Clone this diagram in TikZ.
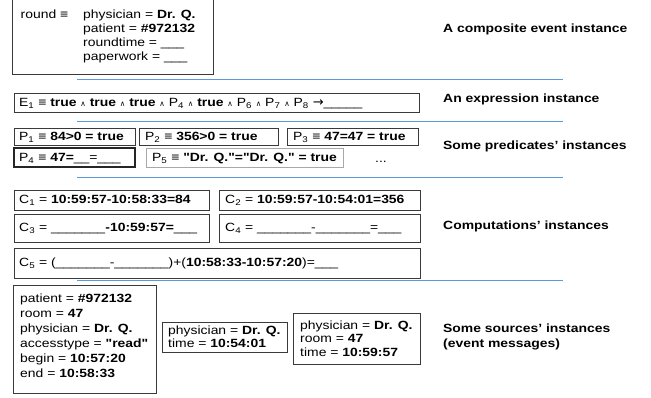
\documentclass[tikz,border=0pt]{standalone}
\usepackage{fontspec}
\setmainfont{Liberation Sans}[FakeStretch=1.17, Ligatures=TeXOff]
\newfontfamily\djv{DejaVu Sans}
\usetikzlibrary{fit}
\definecolor{boxgray}{HTML}{3A3A3A}
\definecolor{lightgray}{HTML}{A8A8A8}
\definecolor{sepblue}{HTML}{5B9BD5}
\newcommand{\andop}{{\djv\fontsize{7.5}{8}\selectfont\raisebox{0.2pt}{∧}}}
\newcommand{\sbs}[1]{\textsubscript{#1}}
\begin{document}
\begin{tikzpicture}[x=1pt,y=-1pt,
  box/.style={draw=boxgray, line width=0.8pt, inner sep=0pt, outer sep=0pt},
  lbox/.style={draw=lightgray, line width=0.8pt, inner sep=0pt, outer sep=0pt},
  tbox/.style={draw=black!85, line width=1.1pt, inner sep=0pt, outer sep=0pt},
  txt/.style={anchor=base west, inner sep=0pt, font=\fontsize{11.9}{13}\selectfont},
  lab/.style={anchor=base west, inner sep=0pt, font=\fontsize{11.9}{13}\selectfont\bfseries},
  sep/.style={draw=sepblue, line width=0.9pt}]
\useasboundingbox[fill=white] (0,0) rectangle (651,398);

% separator lines
\coordinate (s1a) at (77,79);  \coordinate (s1b) at (563,79);
\coordinate (s2a) at (77,121); \coordinate (s2b) at (563,121);
\coordinate (s3a) at (77,177); \coordinate (s3b) at (563,177);
\coordinate (s4a) at (77,280); \coordinate (s4b) at (563,280);
\draw[sep] (s1a) -- (s1b);
\draw[sep] (s2a) -- (s2b);
\draw[sep] (s3a) -- (s3b);
\draw[sep] (s4a) -- (s4b);

% boxes
\node[box, fit={(12,-5)(213,74)}] (round) {};
\node[box, fit={(14,93)(419,112)}] (E1) {};
\node[box, fit={(14,128)(135,145)}] (P1) {};
\node[box, fit={(139,128)(278,145)}] (P2) {};
\node[box, fit={(287,128)(418,145)}] (P3) {};
\node[tbox, fit={(14,148)(135,167)}] (P4) {};
\node[lbox, fit={(146,148)(343,167)}] (P5) {};
\node[box, fit={(14,190)(209,210)}] (C1) {};
\node[box, fit={(219,190)(420,210)}] (C2) {};
\node[box, fit={(14,214)(209,242)}] (C3) {};
\node[box, fit={(219,214)(420,242)}] (C4) {};
\node[box, fit={(14,248)(420,278)}] (C5) {};
\node[box, fit={(13,285)(156,393)}] (S1) {};
\node[box, fit={(162,322)(287,352)}] (S2) {};
\node[box, fit={(293,313)(420,364)}] (S3) {};

% composite event
\node[txt] (rnd) at (20.5,19) {round ≡};
\node[txt] (r1) at (83,19) {physician = \textbf{Dr. Q.}};
\node[txt] (r2) at (83,33) {patient = \textbf{\#972132}};
\node[txt] (r3) at (83,47) {roundtime = \_\_\_};
\node[txt] (r4) at (83,61) {paperwork = \_\_\_};

% expression
\node[txt] (e1) at (19,106.5) {E\sbs{1} ≡ \textbf{true} \andop{} \textbf{true} \andop{} \textbf{true} \andop{} P\sbs{4} \andop{} \textbf{true} \andop{} P\sbs{6} \andop{} P\sbs{7} \andop{} P\sbs{8} {\djv\fontsize{13}{13}\selectfont →}\_\_\_\_\_};

% predicates
\node[txt] (p1) at (19,140.5) {P\sbs{1} ≡ \textbf{84>0 = true}};
\node[txt] (p2) at (145,140.5) {P\sbs{2} ≡ \textbf{356>0 = true}};
\node[txt] (p3) at (293,140.5) {P\sbs{3} ≡ \textbf{47=47 = true}};
\node[txt] (p4) at (19,161.5) {P\sbs{4} ≡ \textbf{47=}\_\_=\_\_\_};
\node[txt] (p5) at (152,161.5) {P\sbs{5} ≡ \textbf{"Dr. Q."="Dr. Q." = true}};
\node[txt] (dots) at (375,163) {...};

% computations
\node[txt] (c1) at (19,204) {C\sbs{1} = \textbf{10:59:57-10:58:33=84}};
\node[txt] (c2) at (225,204) {C\sbs{2} = \textbf{10:59:57-10:54:01=356}};
\node[txt] (c3) at (19,232) {C\sbs{3} = \_\_\_\_\_\_\_\textbf{-10:59:57=}\_\_\_};
\node[txt] (c4) at (225,232) {C\sbs{4} = \_\_\_\_\_\_\_-\_\_\_\_\_\_\_=\_\_\_};
\node[txt] (c5) at (19,267) {C\sbs{5} = (\_\_\_\_\_\_\_-\_\_\_\_\_\_\_)+(\textbf{10:58:33-10:57:20})=\_\_\_};

% sources
\node[txt] (a1) at (20,302) {patient = \textbf{\#972132}};
\node[txt] (a2) at (20,317) {room = \textbf{47}};
\node[txt] (a3) at (20,332) {physician = \textbf{Dr. Q.}};
\node[txt] (a4) at (20,347) {accesstype = \textbf{"read"}};
\node[txt] (a5) at (20,362) {begin = \textbf{10:57:20}};
\node[txt] (a6) at (20,377) {end = \textbf{10:58:33}};
\node[txt] (b1) at (168,334.5) {physician = \textbf{Dr. Q.}};
\node[txt] (b2) at (168,348) {time = \textbf{10:54:01}};
\node[txt] (d1) at (300,329) {physician = \textbf{Dr. Q.}};
\node[txt] (d2) at (300,342.5) {room = \textbf{47}};
\node[txt] (d3) at (300,356) {time = \textbf{10:59:57}};

% right labels
\node[lab] (L1) at (443,33) {A composite event instance};
\node[lab] (L2) at (443,103) {An expression instance};
\node[lab] (L3) at (443,150) {Some predicates’ instances};
\node[lab] (L4) at (443,230) {Computations’ instances};
\node[lab] (L5) at (443,332) {Some sources’ instances};
\node[lab] (L6) at (443,347) {(event messages)};
\end{tikzpicture}
\end{document}
